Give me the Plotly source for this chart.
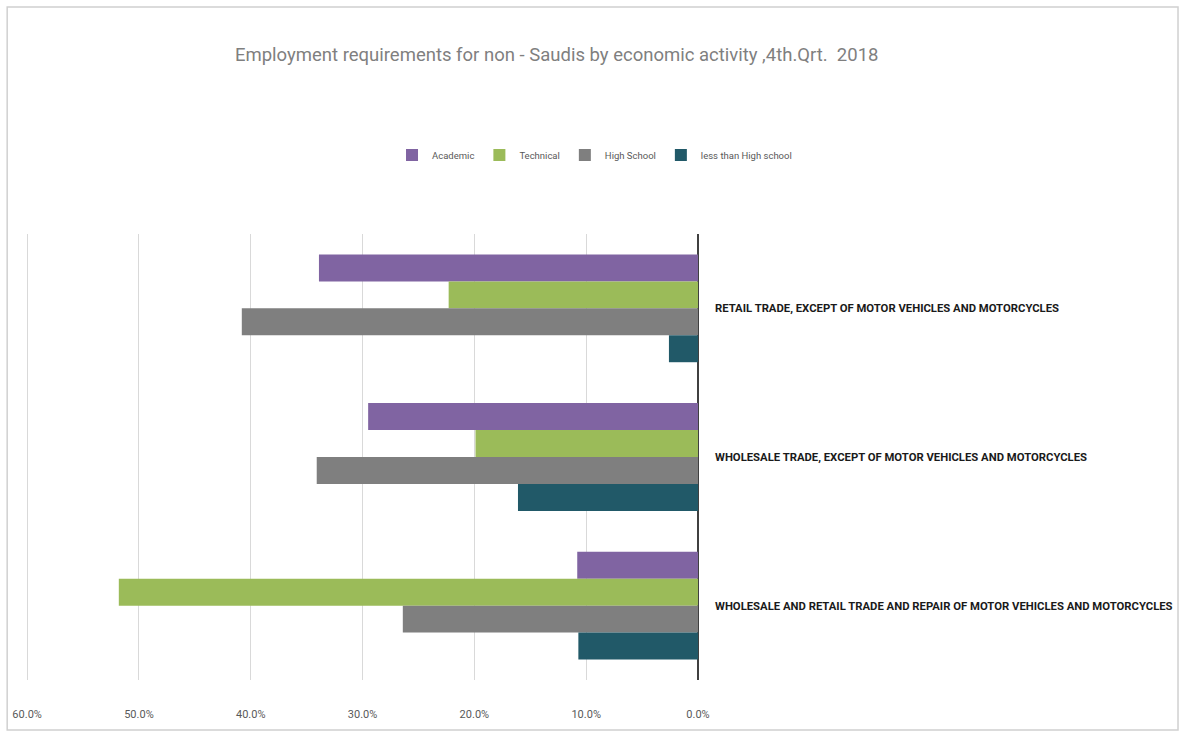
import plotly.graph_objects as go

# Economic activities (top to bottom)
activities = [
    "RETAIL TRADE, EXCEPT OF MOTOR VEHICLES AND MOTORCYCLES",
    "WHOLESALE TRADE, EXCEPT OF MOTOR VEHICLES AND MOTORCYCLES",
    "WHOLESALE AND RETAIL TRADE AND REPAIR OF MOTOR VEHICLES AND MOTORCYCLES",
]

# Share of employment requirements by education level
academic = [0.339, 0.295, 0.108]
technical = [0.223, 0.199, 0.518]
high_school = [0.408, 0.341, 0.264]
less_than_high_school = [0.026, 0.161, 0.107]

series_names = ["Academic", "Technical", "High School", "less than High school"]
series_values = [academic, technical, high_school, less_than_high_school]
series_colors = ["#8064A2", "#9BBB59", "#7F7F7F", "#215968"]

x_ticks = [0.6, 0.5, 0.4, 0.3, 0.2, 0.1, 0.0]

font_family = "Roboto, Liberation Sans, sans-serif"

fig = go.Figure()
for name, vals, color in zip(series_names, series_values, series_colors):
    fig.add_trace(go.Bar(
        y=activities,
        x=vals,
        name=name,
        orientation="h",
        marker=dict(color=color, line=dict(width=0)),
    ))

# plot area spans x 26..698 px, y 234..680 px
fig.update_layout(
    width=1187,
    height=731,
    margin=dict(l=26, r=489, t=234, b=51, autoexpand=False),
    paper_bgcolor="white",
    plot_bgcolor="white",
    barmode="group",
    bargap=0.275,
    bargroupgap=0,
    title=dict(
        text="Employment requirements for non - Saudis by economic activity ,4th.Qrt.  2018",
        x=0.469,
        xanchor="center",
        y=0.925,
        yanchor="middle",
        yref="container",
        font=dict(family=font_family, size=18.5, color="#7F7F7F"),
    ),
    legend=dict(
        orientation="h",
        x=0.846,
        xanchor="center",
        y=1.177,
        yanchor="middle",
        traceorder="normal",
        itemwidth=30,
        font=dict(family=font_family, size=9.5, color="#595959"),
        bgcolor="rgba(0,0,0,0)",
    ),
    xaxis=dict(
        range=[0.601, 0.0],
        tickvals=x_ticks,
        tickformat=".1%",
        showgrid=True,
        gridcolor="#D9D9D9",
        gridwidth=1,
        zeroline=True,
        zerolinecolor="#404040",
        zerolinewidth=1.5,
        showline=False,
        ticks="",
        ticklabelstandoff=26,
        automargin=False,
        tickfont=dict(family=font_family, size=11, color="#595959"),
        fixedrange=True,
    ),
    yaxis=dict(
        autorange="reversed",
        side="right",
        showgrid=False,
        showline=False,
        ticks="",
        ticklabelstandoff=16,
        automargin=False,
        tickfont=dict(family=font_family, size=11.3, color="#1A1A1A", weight="bold"),
        fixedrange=True,
    ),
    shapes=[
        dict(
            type="rect",
            xref="paper", yref="paper",
            x0=-0.028, x1=1.7143, y0=-0.112, y1=1.509,
            line=dict(color="#D0D0D0", width=1.5),
            fillcolor="rgba(0,0,0,0)",
            layer="below",
        )
    ],
)

fig.write_html("out.html")
